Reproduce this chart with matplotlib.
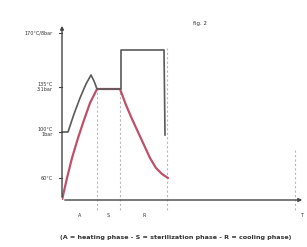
import numpy as np
import matplotlib.pyplot as plt

# time in arbitrary units, level = relative temperature / pressure height
dark_t = [0, 6, 12, 18, 24, 29, 32, 35, 58, 59, 59, 101, 102, 103]
dark_y = [68, 68, 86, 102, 116, 125, 119, 111, 111, 111, 150, 150, 150, 65]

red_t = [0, 5, 10, 16, 22, 28, 35, 58, 64, 70, 76, 82, 88, 94, 100, 106]
red_y = [0, 22, 42, 62, 80, 97, 111, 111, 95, 81, 68, 55, 42, 32, 26, 22]

ytick_pos = [22, 68, 113, 167]
ytick_lab = ['60°C', '100°C\n1bar', '135°C\n3.1bar', '170°C/8bar']

phase_lines = [35, 58, 105, 233]
phase_tops = [113, 113, 152, 50]
xtick_pos = [18, 46, 82, 240]
xtick_lab = ['A', 'S', 'R', 'T']

caption = '(A = heating phase - S = sterilization phase - R = cooling phase)'

fig = plt.figure(figsize=(3.07, 2.47), dpi=100)
ax = fig.add_axes([62/307, 47/247, 245/307, 177/247])
ax.set_xlim(0, 245)
ax.set_ylim(0, 177)
ax.axis('off')

for x, top in zip(phase_lines, phase_tops):
    ax.plot([x, x], [-10, top], color='#b8b8b8', lw=0.8, ls=(0, (2, 2)), clip_on=False)

ax.plot(red_t, red_y, color='#c0506a', lw=1.6, solid_capstyle='round',
        solid_joinstyle='round')
ax.plot(dark_t, dark_y, color='#5a5a5a', lw=1.2)

# axes with arrows
ax.annotate('', xy=(0, 177), xytext=(0, 0),
            arrowprops=dict(arrowstyle='-|>', color='#444', lw=1.0, mutation_scale=5))
ax.annotate('', xy=(243, 0), xytext=(0, 0),
            arrowprops=dict(arrowstyle='-|>', color='#444', lw=1.0, mutation_scale=5))

for y, lab in zip(ytick_pos, ytick_lab):
    ax.plot([-3, 0], [y, y], color='#444', lw=0.8, clip_on=False)
    ax.text(-9, y, lab, ha='right', va='center', fontsize=3.5, color='#333',
            linespacing=1.0)

for x, lab in zip(xtick_pos, xtick_lab):
    ax.text(x, -15, lab, ha='center', va='center', fontsize=3.5, color='#333')

ax.text(138, 177, 'fig. 2', ha='center', va='center', fontsize=4, color='#333')
fig.text(60/307, 10/247, caption, ha='left', va='center', fontsize=4.6,
         fontweight='bold', color='#333')

fig.savefig('out.png', dpi=100)
